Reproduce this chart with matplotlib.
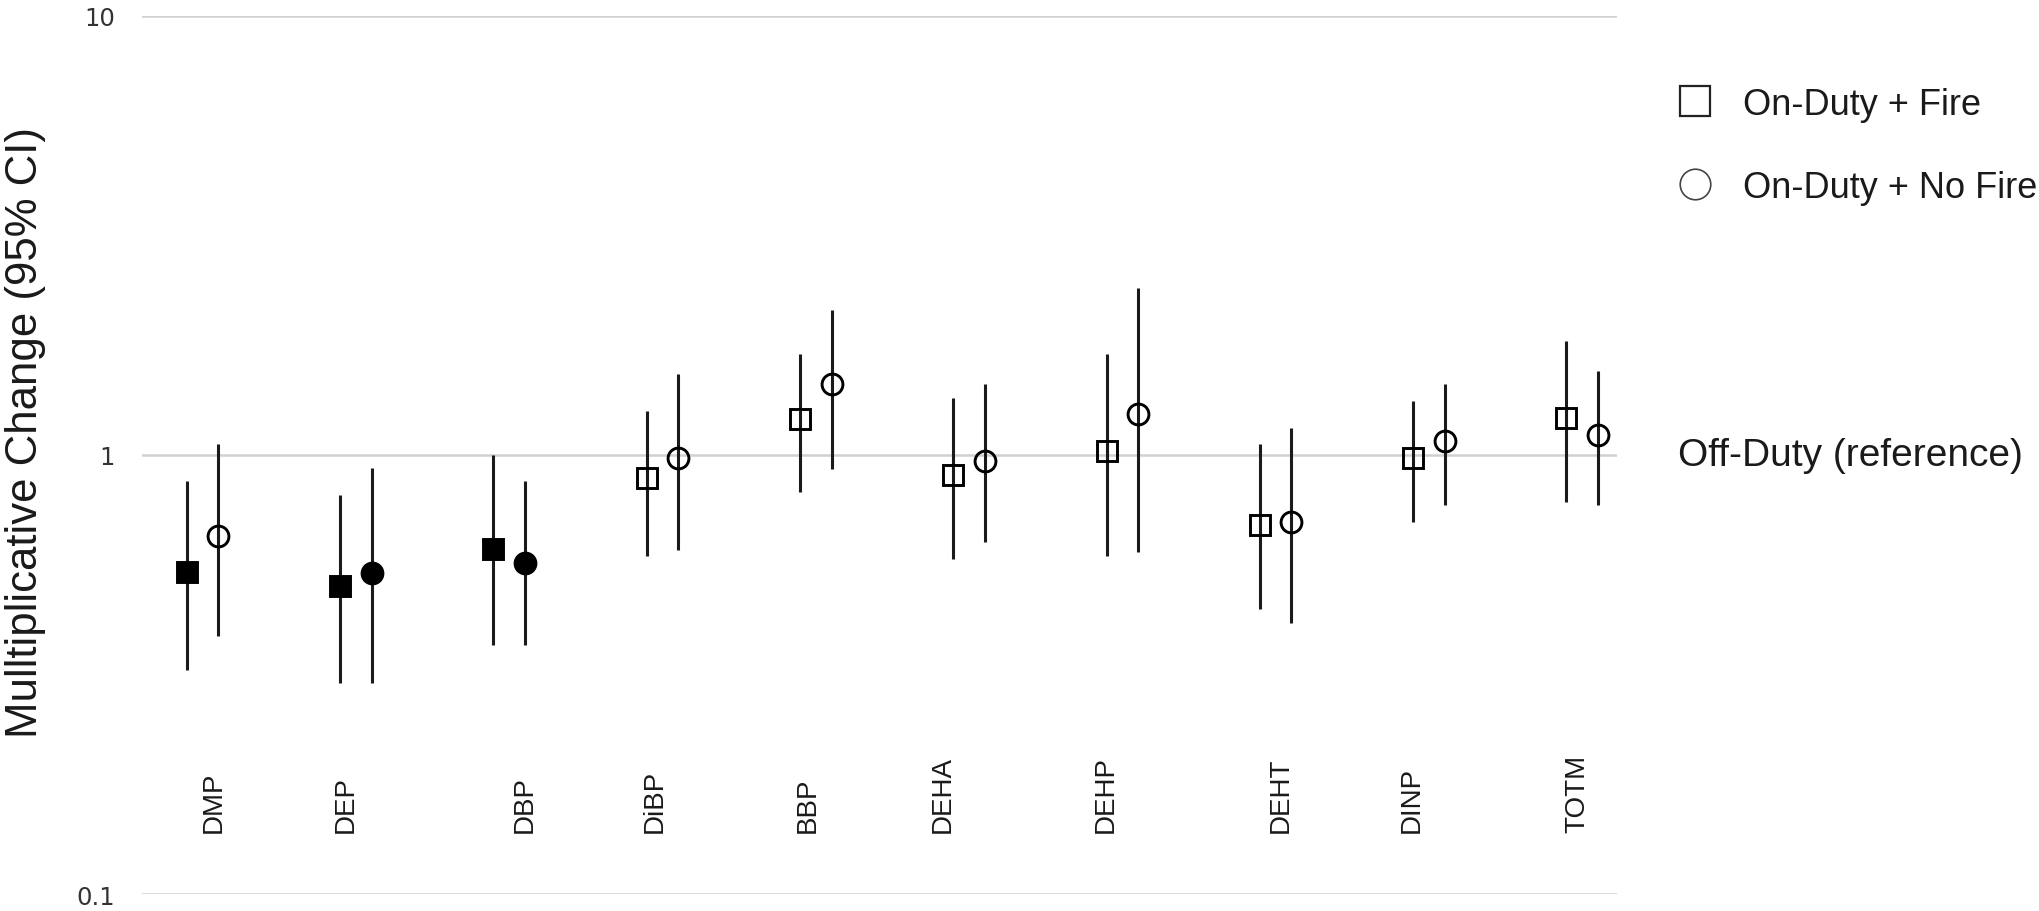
import matplotlib
matplotlib.use("Agg")
import matplotlib.pyplot as plt
import matplotlib.transforms as mtransforms
from matplotlib.lines import Line2D
import numpy as np

# ---------------- data ----------------
compounds = ["DMP", "DEP", "DBP", "DiBP", "BBP", "DEHA", "DEHP", "DEHT", "DINP", "TOTM"]

fire_est = [0.540, 0.503, 0.612, 0.885, 1.210, 0.899, 1.018, 0.692, 0.984, 1.212]
fire_lo  = [0.324, 0.303, 0.369, 0.589, 0.821, 0.579, 0.589, 0.446, 0.702, 0.780]
fire_hi  = [0.871, 0.812, 1.000, 1.260, 1.694, 1.349, 1.694, 1.056, 1.326, 1.817]
fire_sig = [True, True, True, False, False, False, False, False, False, False]

nofire_est = [0.652, 0.537, 0.566, 0.984, 1.447, 0.967, 1.236, 0.703, 1.074, 1.111]
nofire_lo  = [0.387, 0.303, 0.369, 0.608, 0.931, 0.633, 0.601, 0.415, 0.769, 0.769]
nofire_hi  = [1.057, 0.934, 0.871, 1.527, 2.135, 1.449, 2.403, 1.152, 1.449, 1.552]
nofire_sig = [False, True, True, False, False, False, False, False, False, False]

yticks = [0.1, 1, 10]
ytick_labels = ["0.1", "1", "10"]

series_labels = ["On-Duty + Fire", "On-Duty + No Fire"]
reference_label = "Off-Duty (reference)"
ylabel = "Mulltiplicative Change (95% CI)"

# label placement offsets (layout only)
label_offsets = [0.07, -0.065, 0.10, -0.05, -0.05, -0.17, -0.11, 0.035, -0.11, -0.034]

# ---------------- figure ----------------
fig = plt.figure(figsize=(20.4, 9.12), dpi=100)
ax = fig.add_axes([0.0696, 0.01864, 0.7229, 0.9630])

ax.set_yscale("log")
ax.set_ylim(0.1, 10)
ax.set_xlim(-0.395, 9.225)

for s in ax.spines.values():
    s.set_visible(False)

ax.set_yticks(yticks)
ax.set_yticklabels(ytick_labels)
ax.yaxis.set_minor_locator(matplotlib.ticker.NullLocator())
ax.tick_params(axis="y", length=0, pad=19.4, labelsize=17.5, labelcolor="#333333")
for lbl in ax.get_yticklabels():
    lbl.set_family("DejaVu Sans")
ax.set_xticks([])

for yv in yticks:
    ax.axhline(yv, color="#d0d0d0", lw=1.8, zorder=0)

x = np.arange(len(compounds))
off = 0.103
line_col = "#1a1a1a"

def draw_series(xpos, est, lo, hi, sig, marker):
    est = np.array(est); lo = np.array(lo); hi = np.array(hi)
    ax.vlines(xpos, lo, hi, color=line_col, lw=2.2, zorder=2)
    for xi, e, s in zip(xpos, est, sig):
        ax.plot([xi], [e], marker=marker, ms=15, mew=2.1,
                mec="black", mfc=("black" if s else "none"),
                ls="none", zorder=3)

draw_series(x - off, fire_est, fire_lo, fire_hi, fire_sig, "s")
draw_series(x + off, nofire_est, nofire_lo, nofire_hi, nofire_sig, "o")

# category labels inside plot
trans = mtransforms.blended_transform_factory(ax.transData, ax.transAxes)
for xi, name, dx in zip(x, compounds, label_offsets):
    ax.text(xi + dx, 0.0706, name, transform=trans, rotation=90,
            ha="center", va="bottom", fontsize=20,
            family="Liberation Sans", color="#1a1a1a")

# reference label
trans2 = mtransforms.blended_transform_factory(ax.transAxes, ax.transData)
ax.text(1.0416, 1.0, reference_label, transform=trans2, ha="left", va="center",
        fontsize=28, family="Liberation Sans", color="#1a1a1a", clip_on=False)

# y label
fig.text(26 / 2040, 1 - 433 / 912, ylabel, rotation=90, ha="center", va="center",
         fontsize=31.5, family="Liberation Sans", color="#1a1a1a")

# legend
handles = [
    Line2D([], [], marker="s", ls="none", ms=22, mew=1.6, mec="#222222", mfc="white"),
    Line2D([], [], marker="o", ls="none", ms=22, mew=1.2, mec="#444444", mfc="white"),
]
leg = fig.legend(handles, series_labels, loc="upper left",
                 bbox_to_anchor=(1673 / 2040, 1 - 88 / 912),
                 frameon=False, handletextpad=0.75, labelspacing=1.33,
                 borderaxespad=0, borderpad=0, handlelength=1.2,
                 prop={"family": "Liberation Sans", "size": 26})
for t in leg.get_texts():
    t.set_color("#1a1a1a")

fig.savefig("out.png", dpi=100)
